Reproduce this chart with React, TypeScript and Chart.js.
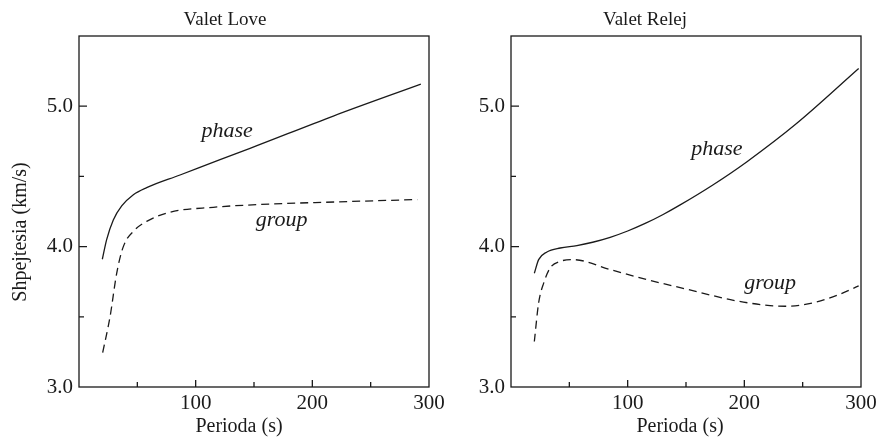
import React, { useEffect, useRef } from 'react';
import { Chart, registerables } from 'chart.js';

Chart.register(...registerables);

// ---- Data ----
const loveTitle = 'Valet Love';
const rayleighTitle = 'Valet Relej';
const xAxisTitle = 'Perioda (s)';
const yAxisTitle = 'Shpejtesia (km/s)';

const xTickLabels = [100, 200, 300];
const yTickLabels = [3, 4, 5];
const xTickMarks = [50, 100, 150, 200, 250];
const yTickMarks = [3.5, 4, 4.5, 5];

const lovePhaseX = [20, 23.7, 29.4, 36.6, 46.6, 58, 86.6, 120.9, 146.6, 218, 293];
const lovePhaseV = [3.91, 4.05, 4.19, 4.29, 4.37, 4.42, 4.51, 4.62, 4.7, 4.93, 5.157];
const loveGroupX = [20.3, 26.6, 32.3, 38, 48, 58, 78, 115, 155, 220, 290];
const loveGroupV = [3.245, 3.5, 3.81, 4.0, 4.12, 4.18, 4.245, 4.28, 4.3, 4.318, 4.335];

const rayPhaseX = [20, 23.7, 30.8, 42.2, 56.5, 70, 85, 100, 115, 130, 145, 173, 202, 245, 298];
const rayPhaseV = [3.81, 3.907, 3.962, 3.99, 4.007, 4.031, 4.066, 4.111, 4.165, 4.227, 4.297, 4.439, 4.603, 4.878, 5.268];
const rayGroupX = [20, 23.7, 28, 33.7, 42.2, 53.6, 85, 119, 149, 188, 205, 222, 235, 259, 280, 298];
const rayGroupV = [3.324, 3.6, 3.74, 3.85, 3.895, 3.907, 3.836, 3.76, 3.7, 3.622, 3.597, 3.58, 3.575, 3.6, 3.655, 3.72];

const loveLabelText = ['phase', 'group'];
const loveLabelX = [127, 173.7];
const loveLabelV = [4.78, 4.146];
const rayLabelText = ['phase', 'group'];
const rayLabelX = [176.4, 222.1];
const rayLabelV = [4.65, 3.7];

const SERIF = '"Liberation Serif", "Times New Roman", serif';
const INK = '#1a1a1a';

type PanelCfg = {
  title: string;
  titleX: number;
  xTitleX: number;
  showYTitle: boolean;
  yWidth: number;
  padRight: number;
  width: number;
  left: number;
  phaseX: number[];
  phaseV: number[];
  groupX: number[];
  groupV: number[];
  labelText: string[];
  labelX: number[];
  labelV: number[];
};

const toPts = (xs: number[], vs: number[]) => xs.map((x, i) => ({ x, y: vs[i] }));

function makeDecor(cfg: PanelCfg) {
  return {
    id: 'decor',
    afterDraw(chart: any) {
      const { ctx, chartArea: a, scales } = chart;
      const xs = scales.x;
      const ys = scales.y;
      ctx.save();
      // frame
      ctx.strokeStyle = INK;
      ctx.lineWidth = 1.3;
      ctx.strokeRect(a.left, a.top, a.right - a.left, a.bottom - a.top);
      // inward ticks
      ctx.beginPath();
      xTickMarks.forEach((v) => {
        const px = xs.getPixelForValue(v);
        const len = xTickLabels.includes(v) ? 7 : 5;
        ctx.moveTo(px, a.bottom);
        ctx.lineTo(px, a.bottom - len);
      });
      yTickMarks.forEach((v) => {
        const py = ys.getPixelForValue(v);
        const len = yTickLabels.includes(v) ? 8 : 5;
        ctx.moveTo(a.left, py);
        ctx.lineTo(a.left + len, py);
      });
      ctx.stroke();

      ctx.fillStyle = INK;
      // title
      ctx.font = `19px ${SERIF}`;
      ctx.textAlign = 'center';
      ctx.textBaseline = 'alphabetic';
      ctx.fillText(cfg.title, cfg.titleX, 25);
      // x-axis title
      ctx.font = `20px ${SERIF}`;
      ctx.fillText(xAxisTitle, cfg.xTitleX, 432);
      // y-axis title
      if (cfg.showYTitle) {
        ctx.save();
        ctx.translate(26, 232);
        ctx.rotate(-Math.PI / 2);
        ctx.fillText(yAxisTitle, 0, 0);
        ctx.restore();
      }
      // curve labels
      ctx.font = `italic 22px ${SERIF}`;
      cfg.labelText.forEach((t, i) => {
        ctx.fillText(t, xs.getPixelForValue(cfg.labelX[i]), ys.getPixelForValue(cfg.labelV[i]));
      });
      ctx.restore();
    },
  };
}

function Panel({ cfg }: { cfg: PanelCfg }) {
  const ref = useRef<HTMLCanvasElement | null>(null);
  useEffect(() => {
    if (!ref.current) return;
    const tickFont = { family: SERIF, size: 21 };
    const chart = new Chart(ref.current, {
      type: 'line',
      data: {
        datasets: [
          {
            label: 'phase',
            data: toPts(cfg.phaseX, cfg.phaseV),
            borderColor: INK,
            borderWidth: 1.3,
            pointRadius: 0,
            fill: false,
            cubicInterpolationMode: 'monotone',
          },
          {
            label: 'group',
            data: toPts(cfg.groupX, cfg.groupV),
            borderColor: INK,
            borderWidth: 1.3,
            borderDash: [8, 5],
            pointRadius: 0,
            fill: false,
            cubicInterpolationMode: 'monotone',
          },
        ],
      },
      options: {
        responsive: false,
        animation: false,
        devicePixelRatio: 1,
        layout: { padding: { left: 0, right: cfg.padRight, top: 36, bottom: 0 } },
        plugins: {
          legend: { display: false },
          tooltip: { enabled: false },
          title: { display: false },
        },
        scales: {
          x: {
            type: 'linear',
            min: 0,
            max: 300,
            grid: { display: false, drawTicks: false },
            border: { display: false },
            ticks: {
              stepSize: 50,
              autoSkip: false,
              maxRotation: 0,
              padding: 4,
              color: INK,
              font: tickFont,
              callback: (v: any) => (xTickLabels.includes(Number(v)) ? String(v) : ''),
            },
            afterFit: (s: any) => {
              s.height = 52;
              s.paddingLeft = 0;
              s.paddingRight = 0;
            },
          },
          y: {
            type: 'linear',
            min: 3,
            max: 5.5,
            grid: { display: false, drawTicks: false },
            border: { display: false },
            ticks: {
              stepSize: 0.5,
              autoSkip: false,
              padding: 6,
              color: INK,
              font: tickFont,
              callback: (v: any) => (yTickLabels.includes(Number(v)) ? Number(v).toFixed(1) : ''),
            },
            afterFit: (s: any) => {
              s.width = cfg.yWidth;
              s.paddingTop = 0;
              s.paddingBottom = 0;
            },
          },
        },
      },
      plugins: [makeDecor(cfg)],
    } as any);
    return () => chart.destroy();
  }, [cfg]);
  return (
    <canvas
      ref={ref}
      width={cfg.width}
      height={439}
      style={{ position: 'absolute', left: cfg.left, top: 0, width: cfg.width, height: 439, display: 'block' }}
    />
  );
}

const loveCfg: PanelCfg = {
  title: loveTitle,
  titleX: 225,
  xTitleX: 239,
  showYTitle: true,
  yWidth: 79,
  padRight: 31,
  width: 460,
  left: 0,
  phaseX: lovePhaseX,
  phaseV: lovePhaseV,
  groupX: loveGroupX,
  groupV: loveGroupV,
  labelText: loveLabelText,
  labelX: loveLabelX,
  labelV: loveLabelV,
};

const rayCfg: PanelCfg = {
  title: rayleighTitle,
  titleX: 205,
  xTitleX: 240,
  showYTitle: false,
  yWidth: 71,
  padRight: 17,
  width: 438,
  left: 440,
  phaseX: rayPhaseX,
  phaseV: rayPhaseV,
  groupX: rayGroupX,
  groupV: rayGroupV,
  labelText: rayLabelText,
  labelX: rayLabelX,
  labelV: rayLabelV,
};

export default function App() {
  return (
    <div style={{ position: 'fixed', left: 0, top: 0, width: 878, height: 439, background: '#fff' }}>
      <Panel cfg={loveCfg} />
      <Panel cfg={rayCfg} />
    </div>
  );
}
